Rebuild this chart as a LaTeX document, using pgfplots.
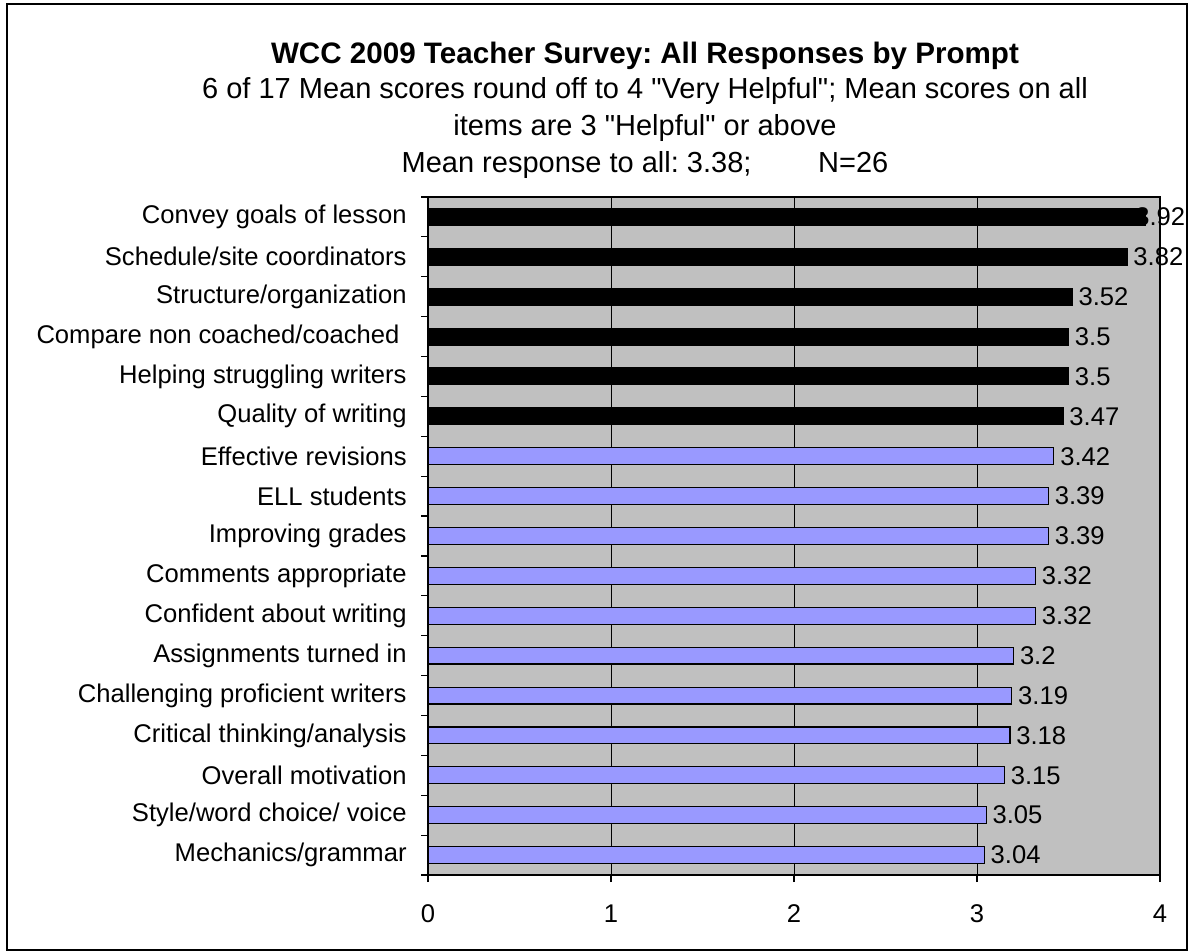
\documentclass[border=0pt]{standalone}
\usepackage{pgfplots}
\pgfplotsset{compat=1.18}
\usepackage{fontspec}
\setmainfont{Liberation Sans}[Ligatures=TeXOff]
\definecolor{plotbg}{HTML}{C0C0C0}
\definecolor{peri}{HTML}{9999FF}
\frenchspacing
\begin{document}
\begin{tikzpicture}
\path[use as bounding box] (0,0) rectangle (594pt,475.5pt);
\draw[line width=1pt] (3.5pt,0.5pt) rectangle (593.5pt,473.5pt);
\node[font=\fontsize{14.8}{17}\selectfont\bfseries] at (322.5pt,447.7pt) {WCC 2009 Teacher Survey: All Responses by Prompt};
\node[font=\fontsize{14.5}{17}\selectfont] at (322.5pt,429.8pt) {6 of 17 Mean scores round off to 4 "Very Helpful"; Mean scores on all};
\node[font=\fontsize{14.5}{17}\selectfont] at (322.5pt,411.5pt) {items are 3 "Helpful" or above};
\node[font=\fontsize{14.5}{17}\selectfont] at (322.5pt,392.8pt) {Mean response to all: 3.38;\hspace{2.3em}N=26};
\begin{axis}[
  at={(214pt,38pt)}, anchor=south west,
  scale only axis, width=366pt, height=339pt,
  xmin=0, xmax=4, ymin=-0.5, ymax=16.5,
  y dir=reverse, clip=false,
  axis background/.style={fill=plotbg},
  axis line style={black, line width=0.6pt},
  xmajorgrids, major grid style={black, line width=0.5pt},
  xtick={0,1,2,3,4},
  ytick={-0.5,0.5,1.5,2.5,3.5,4.5,5.5,6.5,7.5,8.5,9.5,10.5,11.5,12.5,13.5,14.5,15.5,16.5},
  y tick label as interval,
  yticklabels={Convey goals of lesson, Schedule/site coordinators, Structure/organization, {Compare non coached/coached\hspace*{0.28em}}, Helping struggling writers, Quality of writing, Effective revisions, ELL students, Improving grades, Comments appropriate, Confident about writing, Assignments turned in, Challenging proficient writers, Critical thinking/analysis, Overall motivation, Style/word choice/ voice, Mechanics/grammar},
  tick pos=left, tick align=outside, major tick length=3.5pt,
  tick style={black, line width=0.6pt},
  tick label style={font=\fontsize{12.8}{15}\selectfont},
  yticklabel style={inner xsep=0pt, xshift=-7pt},
  xticklabel style={inner sep=0pt, yshift=-11pt},
  /pgf/number format/assume math mode=true,
]
\addplot[draw=none, mark=none, nodes near coords, point meta=x,
  nodes near coords style={anchor=west, inner sep=0pt, xshift=3pt, font=\fontsize{12.8}{15}\selectfont, /pgf/number format/assume math mode=true}]
  coordinates {(3.82,1) (3.52,2) (3.5,3) (3.5,4) (3.47,5) (3.42,6) (3.39,7) (3.39,8) (3.32,9) (3.32,10) (3.2,11) (3.19,12) (3.18,13) (3.15,14) (3.05,15) (3.04,16)};
\addplot[draw=none, mark=none, nodes near coords, point meta=x,
  nodes near coords style={anchor=west, inner sep=0pt, xshift=-5.2pt, font=\fontsize{12.8}{15}\selectfont, /pgf/number format/assume math mode=true}]
  coordinates {(3.92,0)};
\addplot[xbar, bar width=8.4pt, bar shift=0pt, fill=black, draw=black, line width=0.6pt]
  coordinates {(3.92,0) (3.82,1) (3.52,2) (3.5,3) (3.5,4) (3.47,5)};
\addplot[xbar, bar width=8.4pt, bar shift=0pt, fill=peri, draw=black, line width=0.6pt]
  coordinates {(3.42,6) (3.39,7) (3.39,8) (3.32,9) (3.32,10) (3.2,11) (3.19,12) (3.18,13) (3.15,14) (3.05,15) (3.04,16)};
\end{axis}
\end{tikzpicture}
\end{document}
